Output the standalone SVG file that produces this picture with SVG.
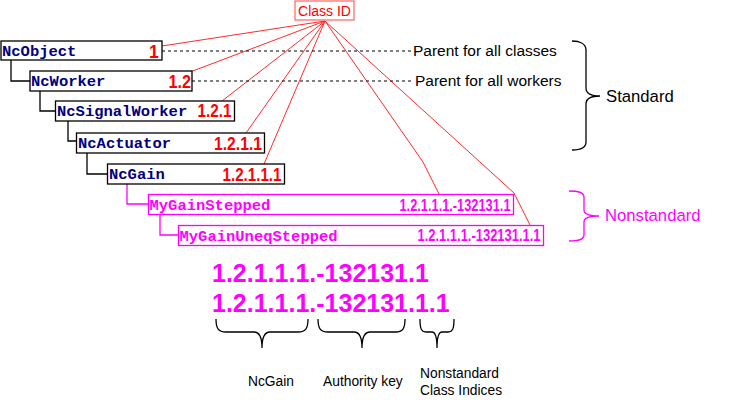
<svg xmlns="http://www.w3.org/2000/svg" width="733" height="402" viewBox="0 0 733 402">
<style>
.box{fill:#fff;stroke:#000;stroke-width:1.3}
.mbox{fill:#fff;stroke:#ff00ff;stroke-width:1.3}
.cls{font-family:"Liberation Mono","Courier New",monospace;font-weight:bold;font-size:15.5px;fill:#000080}
.mcls{font-family:"Liberation Mono","Courier New",monospace;font-weight:bold;font-size:15.5px;fill:#ff00ff}
.idc{font-family:"Liberation Sans",Arial,sans-serif;font-weight:bold;font-size:17.5px;fill:#ff0000}
.mid{font-family:"Liberation Sans",Arial,sans-serif;font-weight:bold;font-size:16px;fill:#ff00ff}
.lbl{font-family:"Liberation Sans",Arial,sans-serif;font-size:15.5px;fill:#000}
.sm{font-family:"Liberation Sans",Arial,sans-serif;font-size:13.8px;fill:#000}
.big{font-family:"Liberation Sans",Arial,sans-serif;font-weight:bold;font-size:25px;fill:#ff00ff}
.tree{fill:none;stroke:#000;stroke-width:1.3}
.mtree{fill:none;stroke:#ff00ff;stroke-width:1.3}
.red{fill:none;stroke:#ff2a2a;stroke-width:1}
.dash{fill:none;stroke:#000;stroke-width:1;stroke-dasharray:3,3}
.brace{fill:none;stroke:#000;stroke-width:1.3}
.mbrace{fill:none;stroke:#ff00ff;stroke-width:1.3}
</style>
<g id="connectors">
<path class="tree" d="M11,60 V81 H30 M40,91 V111 H55 M68,121 V141 H76 M87,153 V174 H107"/>
<path class="mtree" d="M127,184 V204 H148 M160,214 V235 H178"/>
<path class="red" d="M325,21 L162,46 M325,21 L190,72 M325,21 L222,101 M325,21 L246,133 M325,21 L264,164 M325,21 L423,162 L439,194 M325,21 L514,193 L530,225"/>
<path class="dash" d="M162,51 H412 M192,81 H413"/>
</g>
<g id="classid">
<rect x="295" y="1" width="59" height="19" fill="#fff" stroke="#ff6f6f" stroke-width="1.3"/>
<text x="324.5" y="16" font-family="Liberation Sans,Arial,sans-serif" font-size="14" fill="#ff0000" text-anchor="middle">Class ID</text>
</g>
<g id="ncobject">
<rect class="box" x="1" y="41" width="161" height="19"/>
<text class="cls" x="2" y="56">NcObject</text>
<text class="idc" x="149" y="57.5">1</text>
</g>
<g id="ncworker">
<rect class="box" x="30" y="71" width="162" height="20"/>
<text class="cls" x="31" y="86">NcWorker</text>
<text class="idc" x="168.5" y="88" textLength="22.5" lengthAdjust="spacingAndGlyphs">1.2</text>
</g>
<g id="ncsignalworker">
<rect class="box" x="55.5" y="101" width="179" height="20"/>
<text class="cls" x="57" y="116">NcSignalWorker</text>
<text class="idc" x="197.5" y="117" textLength="34" lengthAdjust="spacingAndGlyphs">1.2.1</text>
</g>
<g id="ncactuator">
<rect class="box" x="76.5" y="133" width="188" height="20"/>
<text class="cls" x="78" y="148">NcActuator</text>
<text class="idc" x="214" y="150" textLength="48" lengthAdjust="spacingAndGlyphs">1.2.1.1</text>
</g>
<g id="ncgain">
<rect class="box" x="107.5" y="164" width="177" height="20"/>
<text class="cls" x="109" y="179">NcGain</text>
<text class="idc" x="222.5" y="181" textLength="59" lengthAdjust="spacingAndGlyphs">1.2.1.1.1</text>
</g>
<g id="mygainstepped">
<rect class="mbox" x="148.5" y="194.5" width="365" height="20"/>
<text class="mcls" x="149.5" y="210">MyGainStepped</text>
<text class="mid" x="399.5" y="211" textLength="111" lengthAdjust="spacingAndGlyphs">1.2.1.1.1.-132131.1</text>
</g>
<g id="mygainuneqstepped">
<rect class="mbox" x="178.5" y="225.5" width="365" height="20"/>
<text class="mcls" x="179.5" y="241">MyGainUneqStepped</text>
<text class="mid" x="417.5" y="241" textLength="123" lengthAdjust="spacingAndGlyphs">1.2.1.1.1.-132131.1.1</text>
</g>
<g id="notes">
<text class="lbl" x="413" y="56">Parent for all classes</text>
<text class="lbl" x="415" y="86">Parent for all workers</text>
</g>
<g id="standard">
<path class="brace" d="M572,41 C580,41 586,44 586,50 L586,88 C586,93 590,96 600,96 C590,96 586,99 586,104 L586,142 C586,148 580,150 572,150"/>
<text x="606" y="102" font-family="Liberation Sans,Arial,sans-serif" font-size="16.7" fill="#000">Standard</text>
</g>
<g id="nonstandard">
<path class="mbrace" d="M569,191 C578,191 584,192 584,197 L584,210 C584,214 588,216 599,216 C588,216 584,218 584,222 L584,235 C584,240 578,241 569,241"/>
<text x="605" y="221" font-family="Liberation Sans,Arial,sans-serif" font-size="16.7" fill="#ff00ff">Nonstandard</text>
</g>
<g id="breakdown">
<text class="big" x="212" y="282">1.2.1.1.1.-132131.1</text>
<text class="big" x="212" y="312">1.2.1.1.1.-132131.1.1</text>
<path class="brace" d="M216,319 C216,328 218,332 226,332 L254,332 C259,332 262,336 262,348 C262,336 265,332 270,332 L298,332 C306,332 308,328 308,319"/>
<path class="brace" d="M318,319 C318,328 320,332 328,332 L354,332 C359,332 362,336 362,348 C362,336 365,332 370,332 L396,332 C403,332 405,328 405,319"/>
<path class="brace" d="M420,319 C420,328 421,332 426,332 L432,332 C435,332 437,335 437,348 C437,335 439,332 442,332 L448,332 C453,332 454,328 454,319"/>
<text class="sm" x="248" y="386">NcGain</text>
<text class="sm" x="323" y="386">Authority key</text>
<text class="sm" x="420" y="378">Nonstandard</text>
<text class="sm" x="420" y="395">Class Indices</text>
</g>
</svg>
